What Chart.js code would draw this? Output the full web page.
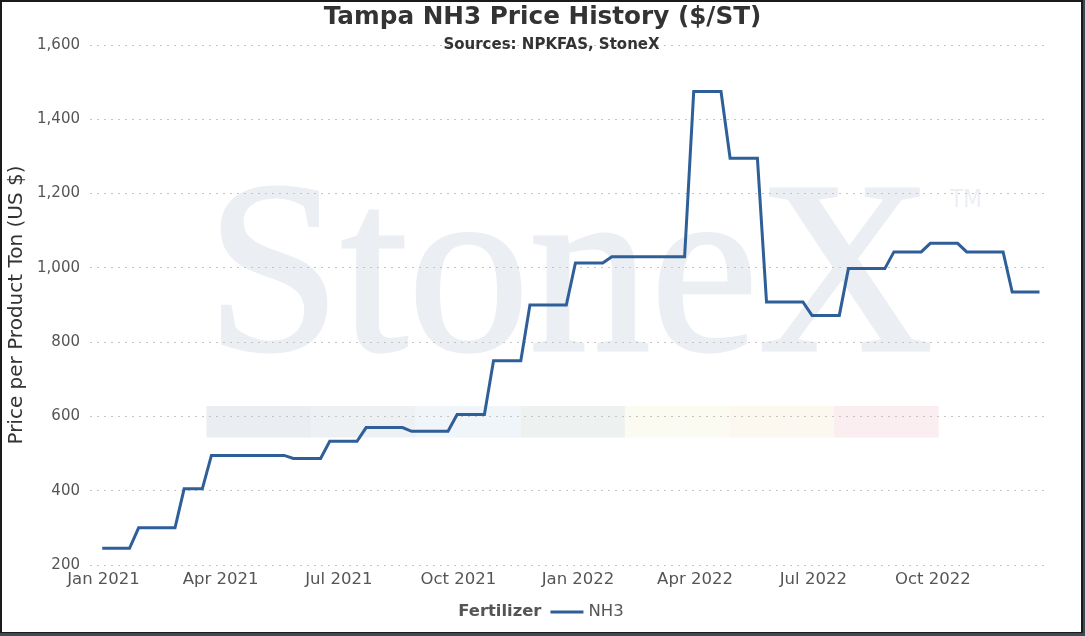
<!DOCTYPE html>
<html lang="en">
<head>
    <meta charset="UTF-8">
    <title>Tampa NH3 Price History</title>
    <script src="https://cdn.jsdelivr.net/npm/chart.js"></script>
    <style>
        html, body { margin: 0; padding: 0; background: #fff; }
        #wrap { position: relative; width: 1085px; height: 636px; }
    </style>
</head>
<body>
<div id="wrap">
    <canvas id="priceChart"></canvas>
</div>

<script>
    // weekly Tampa NH3 prices, $/short ton
    const weekDates = [
        '2020-12-31', '2021-01-07', '2021-01-14', '2021-01-21', '2021-01-28', '2021-02-04', '2021-02-11', '2021-02-18',
        '2021-02-25', '2021-03-04', '2021-03-11', '2021-03-18', '2021-03-25', '2021-04-01', '2021-04-08', '2021-04-15',
        '2021-04-22', '2021-04-29', '2021-05-06', '2021-05-13', '2021-05-20', '2021-05-27', '2021-06-03', '2021-06-10',
        '2021-06-17', '2021-06-24', '2021-07-01', '2021-07-08', '2021-07-15', '2021-07-22', '2021-07-29', '2021-08-05',
        '2021-08-12', '2021-08-19', '2021-08-26', '2021-09-02', '2021-09-09', '2021-09-16', '2021-09-23', '2021-09-30',
        '2021-10-07', '2021-10-14', '2021-10-21', '2021-10-28', '2021-11-04', '2021-11-11', '2021-11-18', '2021-11-25',
        '2021-12-02', '2021-12-09', '2021-12-16', '2021-12-23', '2021-12-30', '2022-01-06', '2022-01-13', '2022-01-20',
        '2022-01-27', '2022-02-03', '2022-02-10', '2022-02-17', '2022-02-24', '2022-03-03', '2022-03-10', '2022-03-17',
        '2022-03-24', '2022-03-31', '2022-04-07', '2022-04-14', '2022-04-21', '2022-04-28', '2022-05-05', '2022-05-12',
        '2022-05-19', '2022-05-26', '2022-06-02', '2022-06-09', '2022-06-16', '2022-06-23', '2022-06-30', '2022-07-07',
        '2022-07-14', '2022-07-21', '2022-07-28', '2022-08-04', '2022-08-11', '2022-08-18', '2022-08-25', '2022-09-01',
        '2022-09-08', '2022-09-15', '2022-09-22', '2022-09-29', '2022-10-06', '2022-10-13', '2022-10-20', '2022-10-27',
        '2022-11-03', '2022-11-10', '2022-11-17', '2022-11-24', '2022-12-01', '2022-12-08', '2022-12-15', '2022-12-22'
    ];
    const nh3Prices = [
        245, 245, 245, 245, 300, 300, 300, 300,
        300, 405, 405, 405, 495, 495, 495, 495,
        495, 495, 495, 495, 495, 487, 487, 487,
        487, 533, 533, 533, 533, 570, 570, 570,
        570, 570, 560, 560, 560, 560, 560, 605,
        605, 605, 605, 750, 750, 750, 750, 900,
        900, 900, 900, 900, 1013, 1013, 1013, 1013,
        1030, 1030, 1030, 1030, 1030, 1030, 1030, 1030,
        1030, 1475, 1475, 1475, 1475, 1295, 1295, 1295,
        1295, 908, 908, 908, 908, 908, 872, 872,
        872, 872, 998, 998, 998, 998, 998, 1043,
        1043, 1043, 1043, 1066, 1066, 1066, 1066, 1043,
        1043, 1043, 1043, 1043, 935, 935, 935, 935
    ];
    const tickDates = ['2021-01-01', '2021-04-01', '2021-07-01', '2021-10-01', '2022-01-01', '2022-04-01', '2022-07-01', '2022-10-01'];
    const tickLabels = ['Jan 2021', 'Apr 2021', 'Jul 2021', 'Oct 2021', 'Jan 2022', 'Apr 2022', 'Jul 2022', 'Oct 2022'];
    const bandColors = ['#eaeef2', '#edf1f4', '#f0f5f9', '#edf2f0', '#fbfbf2', '#fcf8ef', '#faeef1'];

    const lineColor = '#2f5f98';
    const font = '"DejaVu Sans", Verdana, sans-serif';

    // days since 1 Jan 2021, used for the linear x axis
    const origin = Date.parse('2021-01-01');
    function toDay(s) {
        return (Date.parse(s) - origin) / 86400000;
    }
    const tickDays = tickDates.map(toDay);
    const points = weekDates.map(function(d, i) {
        return { x: toDay(d), y: nh3Prices[i] };
    });

    // titles, legend, watermark and frame
    const decorations = {
        id: 'decorations',
        beforeDraw(chart) {
            const ctx = chart.ctx;
            ctx.save();
            ctx.fillStyle = '#fff';
            ctx.fillRect(0, 0, chart.width, chart.height);

            // StoneX watermark
            for (var i = 0; i < bandColors.length; i++) {
                ctx.fillStyle = bandColors[i];
                ctx.fillRect(206.5 + i * 104.6, 406, 104.6, 31.5);
            }
            ctx.fillStyle = '#ebeef2';
            ctx.strokeStyle = '#ebeef2';
            ctx.lineWidth = 3;
            ctx.font = '246px "Liberation Serif", serif';
            ctx.textBaseline = 'alphabetic';
            const w = ctx.measureText('StoneX').width;
            ctx.translate(206, 350);
            ctx.scale(727 / w, 1);
            ctx.fillText('StoneX', 0, 0);
            ctx.strokeText('StoneX', 0, 0);
            ctx.setTransform(1, 0, 0, 1, 0, 0);
            ctx.font = '24px "DejaVu Sans Condensed", sans-serif';
            ctx.fillText('TM', 950, 207);
            ctx.restore();
        },
        afterDraw(chart) {
            const ctx = chart.ctx;
            const cx = chart.width / 2;
            ctx.save();
            ctx.textAlign = 'center';
            ctx.textBaseline = 'middle';
            ctx.fillStyle = '#333';
            ctx.font = 'bold 24.7px ' + font;
            ctx.fillText('Tampa NH3 Price History ($/ST)', cx, 18);
            ctx.font = 'bold 15px ' + font;
            ctx.fillText('Sources: NPKFAS, StoneX', 551.5, 45);

            // legend row
            ctx.textAlign = 'left';
            ctx.fillStyle = '#555';
            ctx.font = 'bold 16.4px ' + font;
            const titleW = ctx.measureText('Fertilizer').width;
            ctx.font = '16.5px ' + font;
            const nameW = ctx.measureText('NH3').width;
            const total = titleW + 9 + 33 + 5 + nameW;
            var x = 541 - total / 2;
            const y = 612;
            ctx.font = 'bold 16.4px ' + font;
            ctx.fillText('Fertilizer', x, y);
            x += titleW + 9;
            ctx.strokeStyle = lineColor;
            ctx.lineWidth = 3;
            ctx.beginPath();
            ctx.moveTo(x, y);
            ctx.lineTo(x + 33, y);
            ctx.stroke();
            x += 33 + 5;
            ctx.font = '16.5px ' + font;
            ctx.fillText('NH3', x, y);

            // frame
            ctx.strokeStyle = '#1b1b1b';
            ctx.lineWidth = 2;
            ctx.strokeRect(1, 1, chart.width - 4, chart.height - 4);
            ctx.fillStyle = '#3b4a56';
            ctx.fillRect(0, chart.height - 3, chart.width, 3);
            ctx.fillRect(chart.width - 2, 0, 2, chart.height);
            ctx.restore();
        }
    };

    const ctx = document.getElementById('priceChart').getContext('2d');
    const priceChart = new Chart(ctx, {
        type: 'line',
        data: {
            datasets: [{
                label: 'NH3',
                data: points,
                borderColor: lineColor,
                borderWidth: 3,
                pointRadius: 0,
                tension: 0,
                fill: false
            }]
        },
        options: {
            responsive: true,
            maintainAspectRatio: false,
            animation: false,
            layout: {
                padding: { left: 0, right: 36, top: 45, bottom: 41 }
            },
            plugins: {
                legend: { display: false },
                title: { display: false },
                tooltip: { enabled: false }
            },
            scales: {
                x: {
                    type: 'linear',
                    min: -10.4,
                    max: 727.3,
                    afterBuildTicks: function(axis) {
                        axis.ticks = tickDays.map(function(v) { return { value: v }; });
                    },
                    afterFit: function(scale) {
                        scale.height = 30;
                    },
                    ticks: {
                        autoSkip: false,
                        maxRotation: 0,
                        padding: 5,
                        color: '#555',
                        font: { family: font, size: 16.5 },
                        callback: function(v) {
                            return tickLabels[tickDays.indexOf(v)];
                        }
                    },
                    grid: { display: false, drawTicks: false },
                    border: { display: false }
                },
                y: {
                    min: 200,
                    max: 1600,
                    afterFit: function(scale) {
                        scale.width = 90;
                    },
                    ticks: {
                        stepSize: 200,
                        padding: 10,
                        color: '#555',
                        font: { family: font, size: 15 },
                        callback: function(v) {
                            return v.toLocaleString('en-US');
                        }
                    },
                    grid: {
                        color: '#c4c4c4',
                        lineWidth: 1,
                        drawTicks: false
                    },
                    border: { display: false, dash: [2, 5] },
                    title: {
                        display: true,
                        text: 'Price per Product Ton (US $)',
                        color: '#333',
                        font: { family: font, size: 20 },
                        padding: { top: 5, bottom: 0 }
                    }
                }
            }
        },
        plugins: [decorations]
    });
</script>

</body>
</html>
